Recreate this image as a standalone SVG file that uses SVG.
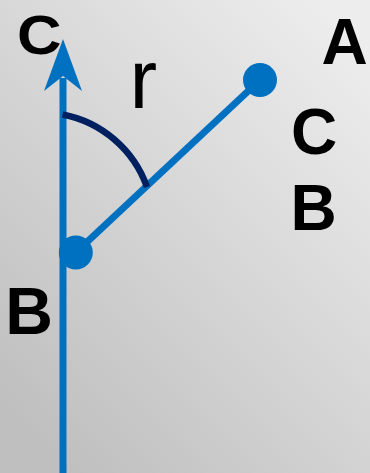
<svg xmlns="http://www.w3.org/2000/svg" width="370" height="473" viewBox="0 0 370 473">
  <style>
    .lbl { font-family: "Liberation Sans", Arial, sans-serif; font-weight: bold; fill: #000; }
    .r { font-family: "Liberation Sans", Arial, sans-serif; font-weight: normal; fill: #000; }
    .blue { stroke: #0070c0; stroke-width: 7; fill: none; }
    .dot { fill: #0070c0; }
  </style>
  <defs>
    <linearGradient id="bg" gradientUnits="userSpaceOnUse" x1="0" y1="400" x2="370" y2="50">
      <stop offset="0" stop-color="#bfbfbf"/>
      <stop offset="1" stop-color="#ededed"/>
    </linearGradient>
  </defs>
  <rect width="370" height="473" fill="url(#bg)"/>

  <g id="connectors">
    <line class="blue" x1="63" y1="473" x2="63" y2="78"/>
    <polygon fill="#0070c0" points="63,39 82,91 63,76 44,91"/>
    <line class="blue" x1="75.8" y1="252.5" x2="260" y2="80"/>
    <path d="M62.5,114.5 A112,112 0 0 1 147,187" fill="none" stroke="#002060" stroke-width="6.5"/>
  </g>

  <g id="node-A">
    <circle class="dot" cx="260" cy="80" r="17"/>
  </g>
  <g id="node-B">
    <circle class="dot" cx="75.8" cy="252.5" r="17"/>
  </g>

  <g id="labels">
    <text class="lbl" font-size="56" transform="translate(16.9,54.3) scale(1.1,1)">C</text>
    <text class="lbl" font-size="66" x="5.2" y="334">B</text>
    <text class="r" font-size="83" x="129.5" y="108.3">r</text>
    <text class="lbl" font-size="64" x="321.5" y="63.5">A</text>
    <text class="lbl" font-size="64" x="291" y="153.5">C</text>
    <text class="lbl" font-size="64" x="290.5" y="230">B</text>
  </g>
</svg>
